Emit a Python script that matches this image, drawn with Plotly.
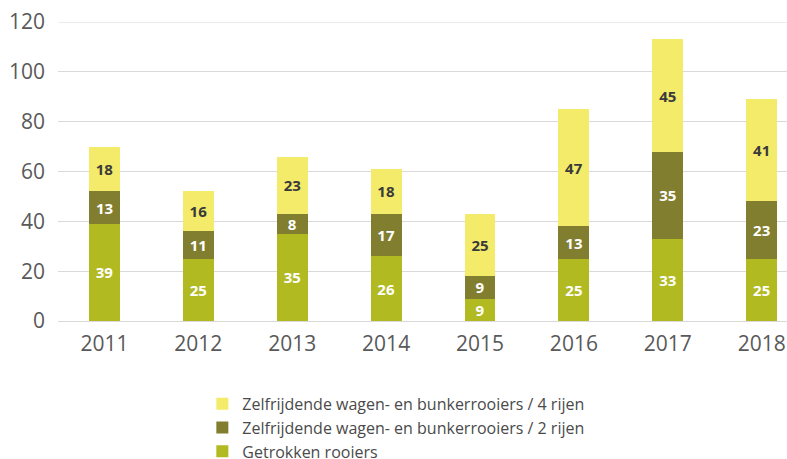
import plotly.graph_objects as go

years = ["2011", "2012", "2013", "2014", "2015", "2016", "2017", "2018"]
getrokken = [39, 25, 35, 26, 9, 25, 33, 25]
rijen2 = [13, 11, 8, 17, 9, 13, 35, 23]
rijen4 = [18, 16, 23, 18, 25, 47, 45, 41]
y_ticks = [0, 20, 40, 60, 80, 100, 120]

names = ["Getrokken rooiers",
         "Zelfrijdende wagen- en bunkerrooiers / 2 rijen",
         "Zelfrijdende wagen- en bunkerrooiers / 4 rijen"]
colors = ["#b2ba22", "#827e30", "#f3eb69"]
text_colors = ["#ffffff", "#ffffff", "#3a3a3a"]
series = [getrokken, rijen2, rijen4]

fig = go.Figure()
for name, vals, c, tc in zip(names, series, colors, text_colors):
    fig.add_trace(go.Bar(
        x=years, y=vals, name=name, marker=dict(color=c, line=dict(width=0)),
        width=0.33, text=vals, texttemplate="<b>%{text}</b>",
        textposition="inside", insidetextanchor="middle", textangle=0,
        textfont=dict(family="Open Sans", size=15, color=tc),
        constraintext="none", hoverinfo="skip",
    ))

# top gridline (plotly drops grid lines lying on the plot edge)
fig.add_shape(type="line", xref="paper", x0=0, x1=1, yref="y",
              y0=y_ticks[-1], y1=y_ticks[-1],
              line=dict(color="#d9d9d9", width=1), layer="below")

fig.update_layout(
    barmode="stack",
    width=787, height=459,
    margin=dict(l=58, r=0, t=22, b=138, autoexpand=False),
    plot_bgcolor="white", paper_bgcolor="white",
    font=dict(family="Open Sans", color="#595959"),
    uniformtext=dict(minsize=15, mode="show"),
    showlegend=True,
    legend=dict(orientation="v", traceorder="reversed",
                x=0.198, xanchor="left", y=-0.220, yanchor="top",
                font=dict(family="Open Sans", size=16, color="#4a4a4a"),
                itemwidth=30, tracegroupgap=0, itemsizing="constant"),
    xaxis=dict(range=[-0.495, 7.27], tickfont=dict(size=21, color="#595959"),
               showgrid=False, showline=False, ticks="", automargin=False,
               ticklabelstandoff=8, ticklabeloverflow="allow"),
    yaxis=dict(range=[0, 120], tickmode="array", tickvals=y_ticks,
               tickfont=dict(size=21, color="#595959"),
               showgrid=True, gridcolor="#d9d9d9", gridwidth=1,
               zeroline=True, zerolinecolor="#d9d9d9", zerolinewidth=1,
               showline=False, ticks="", ticklabelstandoff=12, automargin=False,
               ticklabeloverflow="allow"),
)

# remove the browser's default 8px body margin so the figure fills the window
fig.write_html("out.html",
               config={"displayModeBar": False},
               post_script="document.body.style.margin='0px';"
                           "document.body.style.overflow='hidden';")
